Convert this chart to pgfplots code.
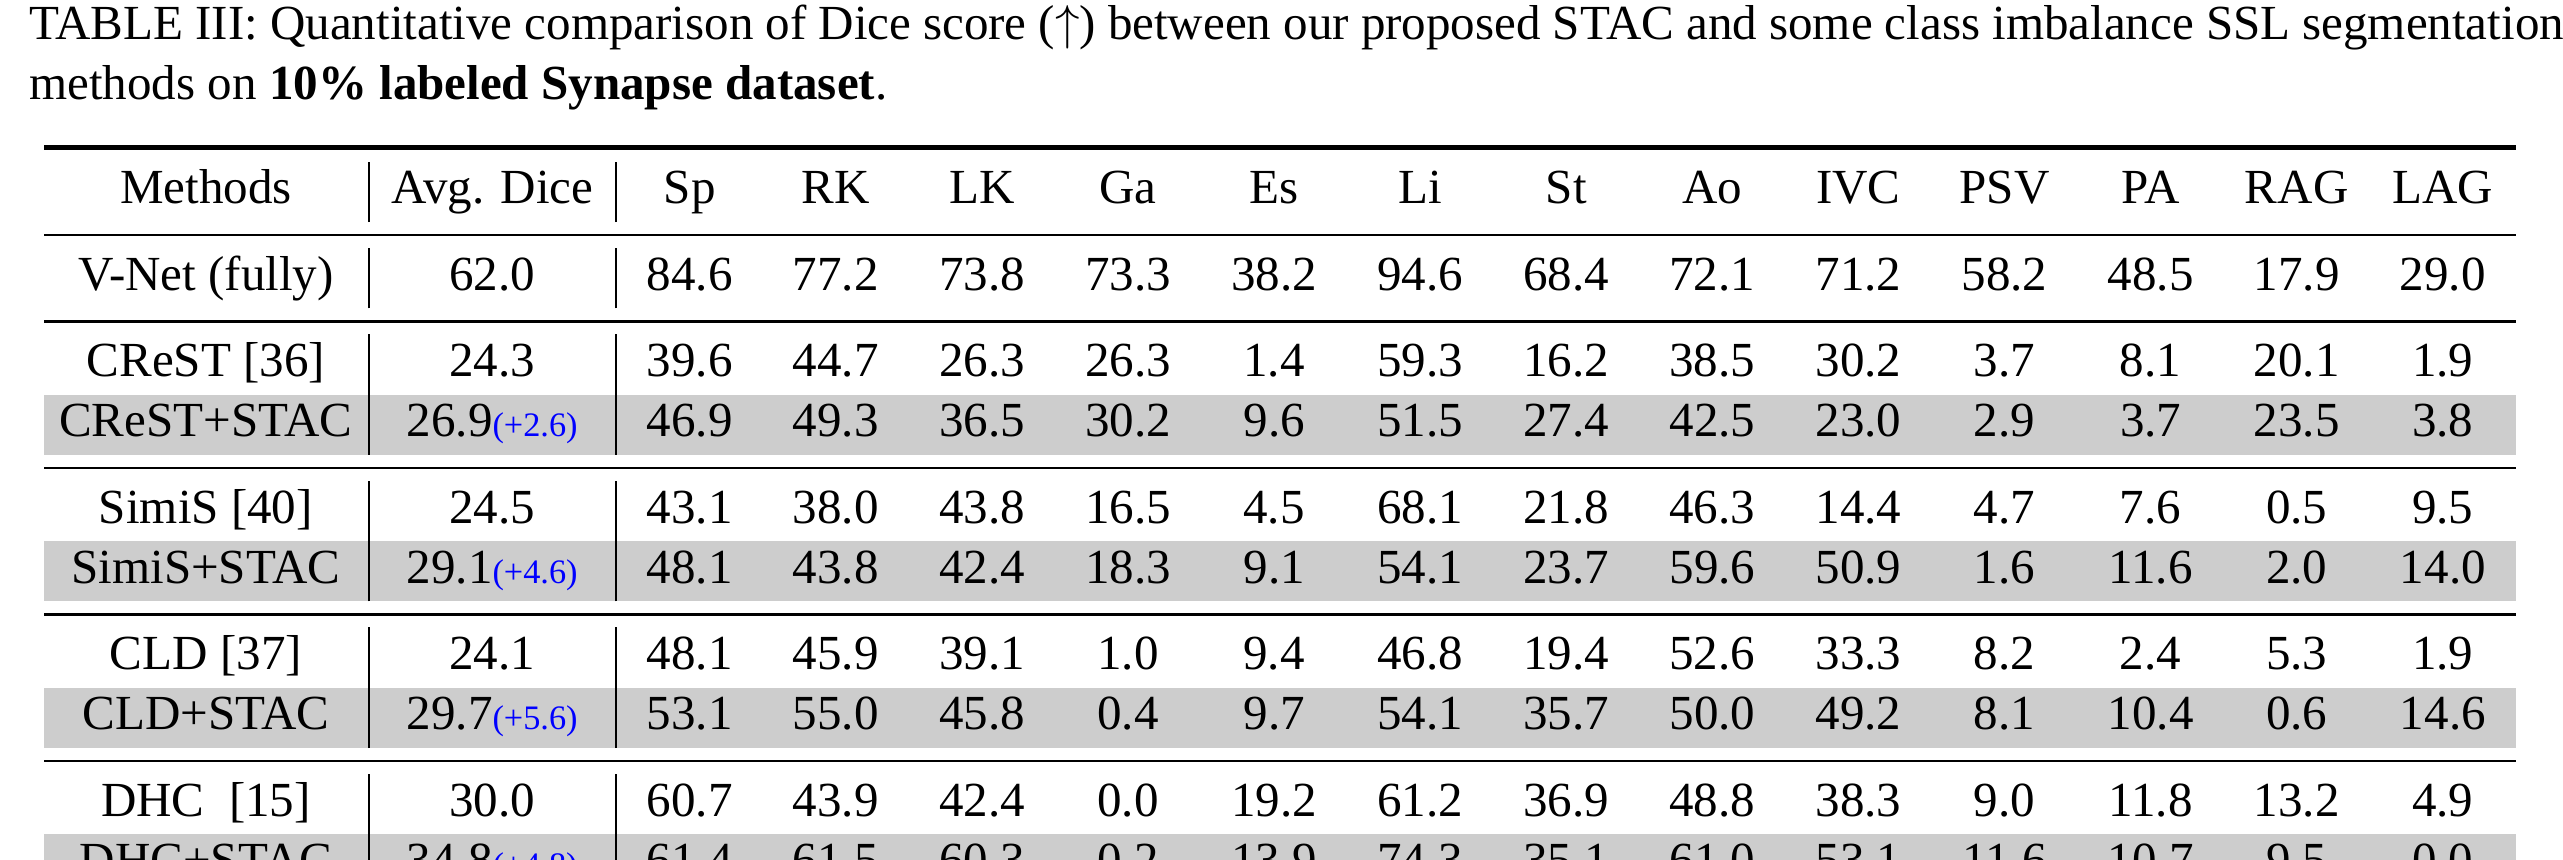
\documentclass[border=0pt]{standalone}
\usepackage{pgfplots}
\pgfplotsset{compat=1.18}
\usepackage[table]{xcolor}
\usepackage{array,booktabs}
\usepackage{fontspec}
\setmainfont{Liberation Serif}
\definecolor{rowgray}{RGB}{205,205,205}
\newcolumntype{C}[1]{>{\centering\arraybackslash}p{#1}}
\newcommand{\up}[1]{{\scriptsize\color{blue}(+#1)}}
\begin{document}
\begin{tikzpicture}
\begin{axis}[hide axis, scale only axis, width=523pt, height=175.5pt,
  xmin=0, xmax=1, ymin=0, ymax=1]
\node[inner sep=0pt, anchor=north west] at (axis cs:0,1) {%
\begin{minipage}{523pt}
\fontsize{10pt}{12.3pt}\selectfont
\vspace*{1pt}
\hspace*{6pt}\parbox{517pt}{\raggedright TABLE III: Quantitative comparison of Dice score ($\uparrow$) between our proposed STAC and some class imbalance SSL segmentation\\ methods on \textbf{10\% labeled Synapse dataset}.}\par
\vspace{6pt}
\hspace*{9pt}{\setlength{\tabcolsep}{0pt}\renewcommand{\arraystretch}{1.0}%
\setlength{\aboverulesep}{2.4pt}\setlength{\belowrulesep}{2.4pt}%
\begin{tabular}{C{66pt}|C{50pt}|*{13}{C{29.8pt}}}
\toprule[1.1pt]
Methods & Avg. Dice & Sp & RK & LK & Ga & Es & Li & St & Ao & IVC & PSV & PA & RAG & LAG\\
\midrule
V-Net (fully) & 62.0 & 84.6 & 77.2 & 73.8 & 73.3 & 38.2 & 94.6 & 68.4 & 72.1 & 71.2 & 58.2 & 48.5 & 17.9 & 29.0\\
\midrule
CReST [36] & 24.3 & 39.6 & 44.7 & 26.3 & 26.3 & 1.4 & 59.3 & 16.2 & 38.5 & 30.2 & 3.7 & 8.1 & 20.1 & 1.9\\
\rowcolor{rowgray} CReST+STAC & 26.9\up{2.6} & 46.9 & 49.3 & 36.5 & 30.2 & 9.6 & 51.5 & 27.4 & 42.5 & 23.0 & 2.9 & 3.7 & 23.5 & 3.8\\
\midrule
SimiS [40] & 24.5 & 43.1 & 38.0 & 43.8 & 16.5 & 4.5 & 68.1 & 21.8 & 46.3 & 14.4 & 4.7 & 7.6 & 0.5 & 9.5\\
\rowcolor{rowgray} SimiS+STAC & 29.1\up{4.6} & 48.1 & 43.8 & 42.4 & 18.3 & 9.1 & 54.1 & 23.7 & 59.6 & 50.9 & 1.6 & 11.6 & 2.0 & 14.0\\
\midrule
CLD [37] & 24.1 & 48.1 & 45.9 & 39.1 & 1.0 & 9.4 & 46.8 & 19.4 & 52.6 & 33.3 & 8.2 & 2.4 & 5.3 & 1.9\\
\rowcolor{rowgray} CLD+STAC & 29.7\up{5.6} & 53.1 & 55.0 & 45.8 & 0.4 & 9.7 & 54.1 & 35.7 & 50.0 & 49.2 & 8.1 & 10.4 & 0.6 & 14.6\\
\midrule
DHC\ \ [15] & 30.0 & 60.7 & 43.9 & 42.4 & 0.0 & 19.2 & 61.2 & 36.9 & 48.8 & 38.3 & 9.0 & 11.8 & 13.2 & 4.9\\
\rowcolor{rowgray} DHC+STAC & 34.8\up{4.8} & 61.4 & 61.5 & 60.3 & 0.2 & 13.9 & 74.3 & 35.1 & 61.0 & 53.1 & 11.6 & 10.7 & 9.5 & 0.0\\
\bottomrule[1.1pt]
\end{tabular}}
\end{minipage}};
\end{axis}
\end{tikzpicture}
\end{document}
